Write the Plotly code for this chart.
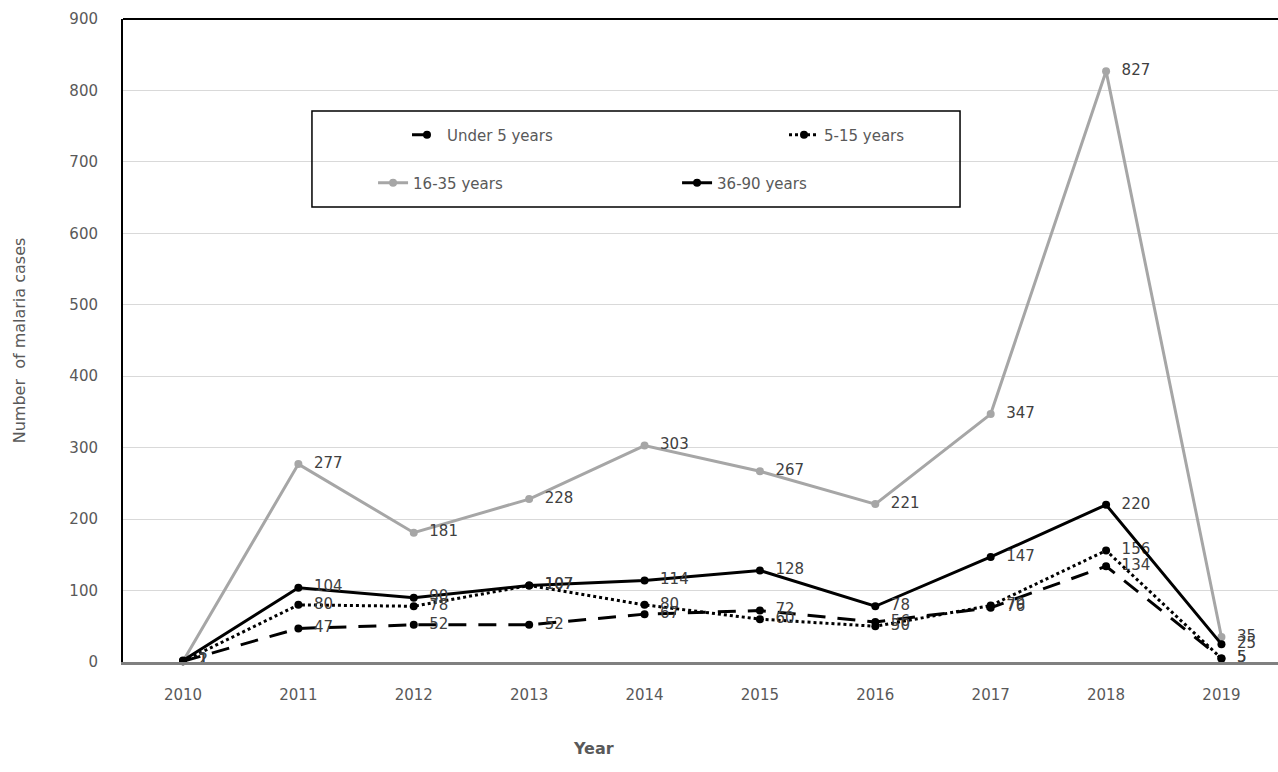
import plotly.graph_objects as go

years = [2010, 2011, 2012, 2013, 2014, 2015, 2016, 2017, 2018, 2019]
under5 = [1, 47, 52, 52, 67, 72, 56, 76, 134, 5]
age5_15 = [1, 80, 78, 107, 80, 60, 50, 79, 156, 5]
age16_35 = [1, 277, 181, 228, 303, 267, 221, 347, 827, 35]
age36_90 = [2, 104, 90, 107, 114, 128, 78, 147, 220, 25]
y_ticks = [0, 100, 200, 300, 400, 500, 600, 700, 800, 900]

FONT = "DejaVu Sans"
LABEL_COLOR = "#404040"
TICK_COLOR = "#595959"
PAD = "\u00a0\u00a0"

fig = go.Figure()

def add(name, vals, color, dash, legend):
    fig.add_trace(go.Scatter(
        x=years, y=vals, name=name, mode="lines+markers+text",
        line=dict(color=color, width=3, dash=dash),
        marker=dict(symbol="circle", size=8, color=color),
        text=[PAD + str(v) for v in vals], textposition="middle right",
        textfont=dict(family=FONT, size=15, color=LABEL_COLOR),
        legend=legend, cliponaxis=False,
    ))

add("16-35 years", age16_35, "#a6a6a6", "solid", "legend2")
add("Under 5 years", under5, "#000000", "18px,12px", "legend")
add("5-15 years", age5_15, "#000000", "dot", "legend")
add("36-90 years", age36_90, "#000000", "solid", "legend2")

fig.update_layout(
    width=1278, height=772,
    margin=dict(l=123, r=0, t=19, b=110),
    paper_bgcolor="white", plot_bgcolor="white",
    font=dict(family=FONT, color=TICK_COLOR),
    legend=dict(orientation="h", x=0.2459, xanchor="left", y=0.8196, yanchor="middle",
                entrywidth=332, bgcolor="rgba(0,0,0,0)",
                font=dict(family=FONT, size=15, color=TICK_COLOR),
                traceorder="normal"),
    legend2=dict(orientation="h", x=0.2165, xanchor="left", y=0.745, yanchor="middle",
                 entrywidth=259, bgcolor="rgba(0,0,0,0)",
                 font=dict(family=FONT, size=15, color=TICK_COLOR),
                 traceorder="normal"),
    xaxis=dict(
        tickmode="array", tickvals=years, ticktext=[str(y) for y in years],
        range=[2009.48, 2019.49], showgrid=False, zeroline=False,
        showline=True, linecolor="#808080", linewidth=3,
        ticks="", ticklabelstandoff=17,
        tickfont=dict(family=FONT, size=15, color=TICK_COLOR),
    ),
    yaxis=dict(
        tickmode="array", tickvals=y_ticks, range=[0, 900],
        showgrid=True, gridcolor="#d9d9d9", gridwidth=1, zeroline=False,
        showline=True, linecolor="#000000", linewidth=2,
        ticks="", ticklabelstandoff=20,
        tickfont=dict(family=FONT, size=15, color=TICK_COLOR),
        title=dict(text="Number  of malaria cases",
                   font=dict(family=FONT, size=16, color=TICK_COLOR), standoff=40),
    ),
    shapes=[
        dict(type="line", xref="paper", yref="paper", x0=0, x1=1, y0=1, y1=1,
             line=dict(color="#000000", width=2), layer="above"),
        dict(type="rect", xref="paper", yref="paper", x0=0.1636, x1=0.7247,
             y0=0.7076, y1=0.8569, line=dict(color="#000000", width=1.5),
             fillcolor="rgba(0,0,0,0)", layer="above"),
    ],
    annotations=[
        dict(text="<b>Year</b>", xref="paper", yref="paper", x=0.407, y=-0.152,
             showarrow=False, font=dict(family=FONT, size=16, color=TICK_COLOR)),
    ],
)

fig.write_html("out.html")
